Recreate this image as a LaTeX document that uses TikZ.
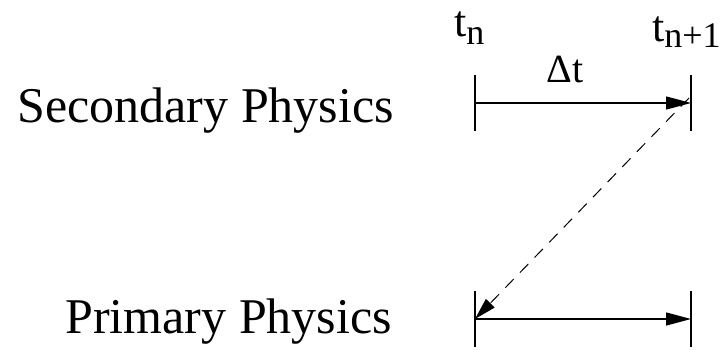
\documentclass[tikz,border=0pt]{standalone}
\usepackage{fontspec}
\setmainfont{Liberation Serif}
\usepackage{tikz}
\usetikzlibrary{arrows.meta, positioning}

\tikzset{
  phys/.style={inner sep=0pt, anchor=base east, font=\fontsize{50}{60}\selectfont},
  timelbl/.style={inner sep=0pt, anchor=base west, font=\fontsize{44}{52}\selectfont},
  step arrow/.style={-{Triangle[length=25pt, width=13pt]}, line width=1.4pt},
  tickline/.style={line width=1.4pt}
}

\begin{document}
\begin{tikzpicture}[x=1pt, y=-1pt]
  \useasboundingbox (0,0) rectangle (727,350);

  % time levels
  \coordinate (sl) at (475,103);
  \coordinate (sr) at (691,103);
  \coordinate (pl) at (475,319);
  \coordinate (pr) at (691,319);

  % labels
  \node[phys] (second) at (394,122) {Secondary Physics};
  \node[phys] (prim) at (392,333) {Primary Physics};
  \node[timelbl] (tn) at (454,37) {t\raisebox{-8pt}{\fontsize{36}{44}\selectfont n}};
  \node[timelbl] (tn1) at (652,42) {t\raisebox{-6pt}{\fontsize{36}{44}\selectfont n+1}};
  \node[timelbl, anchor=base, font=\fontsize{40}{48}\selectfont] (dt) at (565,83) {Δt};

  % ticks
  \foreach \c in {sl,sr,pl,pr}
    \draw[tickline] ([yshift=28pt]\c) -- ([yshift=-28pt]\c);

  % advance secondary, then feed back to primary
  \draw[step arrow] (sl) -- (sr);
  \draw[step arrow, line width=1pt, dash pattern=on 12pt off 9pt,
        -{Triangle[length=22pt, width=12pt]}] ([shift={(-2pt,5pt)}]sr) -- (pl);
  \draw[step arrow] (pl) -- (pr);
\end{tikzpicture}
\end{document}
